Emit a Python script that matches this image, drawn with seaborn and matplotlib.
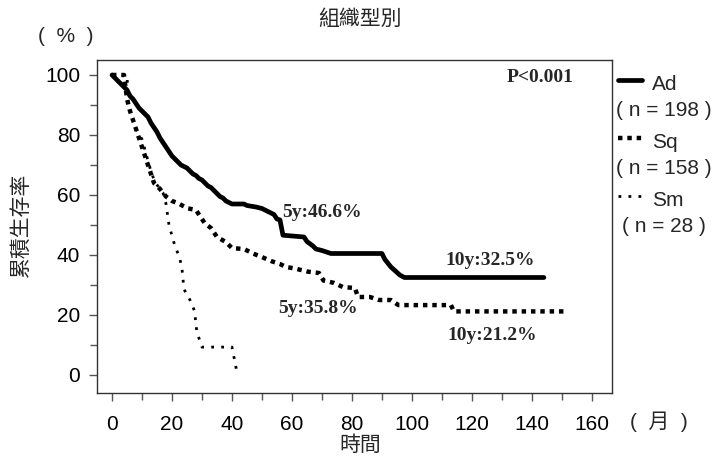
import matplotlib
matplotlib.use("Agg")
import matplotlib.pyplot as plt
import numpy as np
import pandas as pd
import seaborn as sns
from matplotlib.lines import Line2D
from matplotlib.ticker import MultipleLocator

# ---- data (months, cumulative survival %) ----
ad_t = [0, 1, 2, 3, 4, 5, 6, 7, 8, 9, 10, 11, 12, 13, 14, 15, 16, 17, 18, 19, 20,
        21, 22, 23, 24, 25, 26, 27, 28, 29, 30, 31, 32, 33, 34, 35, 36, 37, 38, 39,
        40, 44, 45, 48, 50, 52, 54, 55, 56, 57, 64, 65, 67, 68, 70, 73, 90, 91, 93,
        96, 97.5, 144]
ad_s = [100, 99, 98, 97, 96, 95, 93, 92, 90.5, 89, 88, 87, 86, 84, 82.5, 81, 79,
        77.5, 76, 74.5, 73, 72, 71, 70, 69.5, 69, 68, 67, 66.5, 65.5, 65, 64, 63,
        62.5, 61.5, 60.5, 59.5, 59, 58, 57.5, 57, 57, 56.5, 56, 55.5, 54.5, 53.5,
        52, 51.7, 46.6, 46, 44.5, 43, 42, 41.5, 40.5, 40.5, 38.5, 36, 33.3, 32.5,
        32.5]

sq_t = [0, 4, 5, 6, 7, 8, 9, 10, 11, 12, 13, 14, 16, 18, 20, 22, 25, 28, 29.5, 31,
        33, 35, 38, 40, 44, 47, 50, 53, 56, 58, 61, 65, 69, 70.5, 74, 77, 81, 82, 86,
        89, 93, 95.5, 113, 114, 152]
sq_s = [100, 100, 92, 88, 85, 82, 79, 76, 73, 70, 67, 64, 62, 59.5, 58, 57.3, 55.6,
        55, 52.7, 50.5, 49, 46, 44.3, 42.3, 42, 40.5, 39.3, 38, 37, 36, 35.5, 34.5,
        34, 31.5, 30.7, 29.3, 29, 26, 26, 25, 25, 23.3, 23.3, 21.2, 21.2]

sm_t = [0, 5, 5.5, 8, 10, 11, 12, 13, 14.3, 17, 18, 19, 20, 21, 22.5, 23.3, 24, 26,
        27.5, 28.3, 30, 40, 41.7]
sm_s = [100, 100, 89.3, 82.1, 78.6, 75, 71.4, 67.9, 64.3, 60.7, 57.1, 50, 46.4,
        42.9, 39.3, 35.7, 28.6, 25, 21.4, 14.3, 9.3, 9.3, 0.7]

groups = ["Ad", "Sq", "Sm"]
ns = [198, 158, 28]
x_ticks = [0, 20, 40, 60, 80, 100, 120, 140, 160]
y_ticks = [0, 20, 40, 60, 80, 100]

notes = ["P<0.001", "5y:46.6%", "5y:35.8%", "10y:32.5%", "10y:21.2%"]
note_pos = [(142.7, 99), (70, 54.3), (68.7, 22.3), (126, 38.3), (126.7, 13.3)]

# ---- style ----
sns.set_style("white")
plt.rcParams["font.family"] = ["Liberation Sans", "Noto Sans CJK TC", "DejaVu Sans"]

W, H = 721, 467
FS = 15
fig = plt.figure(figsize=(W / 100, H / 100), dpi=100)
ax = fig.add_axes([97 / W, 1 - 393 / H, (612 - 97) / W, (393 - 60) / H])

df_ad = pd.DataFrame({"t": ad_t, "s": ad_s})
df_sq = pd.DataFrame({"t": sq_t, "s": sq_s})
df_sm = pd.DataFrame({"t": sm_t, "s": sm_s})

styles = {
    "Ad": dict(lw=3.4, ls="-"),
    "Sq": dict(lw=3.2, ls=(0, (1, 1.1))),
    "Sm": dict(lw=2.0, ls=(0, (1, 2.6))),
}

for g, d in zip(groups, [df_ad, df_sq, df_sm]):
    sns.lineplot(data=d, x="t", y="s", ax=ax, color="black", estimator=None,
                 sort=False, linewidth=styles[g]["lw"], linestyle=styles[g]["ls"])

ax.set_xlim(-5, 166.7)
ax.set_ylim(-6, 105)
ax.set_xticks(x_ticks)
ax.set_yticks(y_ticks)
ax.xaxis.set_minor_locator(MultipleLocator(10))
ax.yaxis.set_minor_locator(MultipleLocator(10))
ax.tick_params(axis="both", which="both", direction="out", color="#555555",
               bottom=True, left=True, top=False, right=False, width=1)
ax.tick_params(axis="both", which="major", length=6, labelsize=FS, labelcolor="black")
ax.tick_params(axis="both", which="minor", length=5)
ax.tick_params(axis="y", which="major", pad=6)
ax.tick_params(axis="x", which="major", pad=10)
ax.set_xlabel("")
ax.set_ylabel("")
for sp in ax.spines.values():
    sp.set_visible(True)
    sp.set_color("#333333")
    sp.set_linewidth(1)

for txt, (x, y) in zip(notes, note_pos):
    ax.text(x, y, txt, ha="center", va="center", fontsize=14,
            family=["Liberation Serif"], fontweight="bold")

# ---- outside texts ----
fig.text(360 / W, 1 - 19 / H, "組織型別", ha="center", va="center", fontsize=FS)
fig.text(66 / W, 1 - 37 / H, "(  %  )", ha="center", va="center", fontsize=FS)
fig.text(21 / W, 1 - 225 / H, "累積生存率", ha="center", va="center", fontsize=FS,
         rotation=90)
fig.text(360 / W, 1 - 445 / H, "時間", ha="center", va="center", fontsize=FS)
fig.text(659 / W, 1 - 422 / H, "(  月  )", ha="center", va="center", fontsize=FS)

# ---- legend (manual) ----
hy = [80, 138, 196]
ty = [84, 142, 200]
ny = [110, 168, 226]
for g, n, y1, y2, y3 in zip(groups, ns, hy, ty, ny):
    fig.add_artist(Line2D([618 / W, 642 / W], [1 - y1 / H, 1 - y1 / H],
                          transform=fig.transFigure, color="black",
                          lw=styles[g]["lw"], ls=styles[g]["ls"]))
    fig.text(652 / W, 1 - y2 / H, g, ha="left", va="center", fontsize=FS)
    fig.text(664 / W, 1 - y3 / H, f"( n = {n} )", ha="center", va="center",
             fontsize=FS)

fig.savefig("out.png", dpi=100)
